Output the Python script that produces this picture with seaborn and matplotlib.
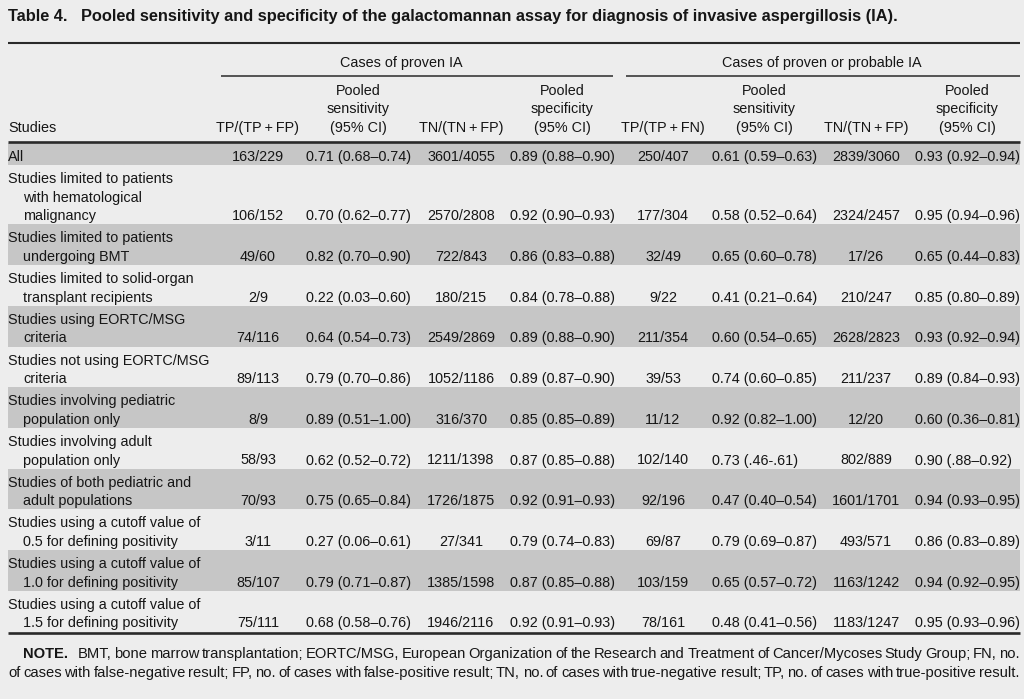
import matplotlib
matplotlib.use("Agg")
import pandas as pd
import matplotlib.pyplot as plt
import seaborn as sns

# Tabela 4 - sensibilidade / especificidade do ensaio de galactomanana

sns.set_theme(style="white")
plt.rcParams['font.family'] = ['Liberation Sans', 'DejaVu Sans']

titulo = "Table 4.   Pooled sensitivity and specificity of the galactomannan assay for diagnosis of invasive aspergillosis (IA)."

grupos = ["Cases of proven IA", "Cases of proven or probable IA"]
cabecalhos = ["TP/(TP\u2009+\u2009FP)", "Pooled\nsensitivity\n(95% CI)", "TN/(TN\u2009+\u2009FP)", "Pooled\nspecificity\n(95% CI)",
              "TP/(TP\u2009+\u2009FN)", "Pooled\nsensitivity\n(95% CI)", "TN/(TN\u2009+\u2009FP)", "Pooled\nspecificity\n(95% CI)"]

estudos = [
    "All",
    "Studies limited to patients\nwith hematological\nmalignancy",
    "Studies limited to patients\nundergoing BMT",
    "Studies limited to solid-organ\ntransplant recipients",
    "Studies using EORTC/MSG\ncriteria",
    "Studies not using EORTC/MSG\ncriteria",
    "Studies involving pediatric\npopulation only",
    "Studies involving adult\npopulation only",
    "Studies of both pediatric and\nadult populations",
    "Studies using a cutoff value of\n0.5 for defining positivity",
    "Studies using a cutoff value of\n1.0 for defining positivity",
    "Studies using a cutoff value of\n1.5 for defining positivity",
]

tp_fp = ["163/229", "106/152", "49/60", "2/9", "74/116", "89/113", "8/9", "58/93", "70/93", "3/11", "85/107", "75/111"]
sens_prov = ["0.71 (0.68–0.74)", "0.70 (0.62–0.77)", "0.82 (0.70–0.90)", "0.22 (0.03–0.60)", "0.64 (0.54–0.73)",
             "0.79 (0.70–0.86)", "0.89 (0.51–1.00)", "0.62 (0.52–0.72)", "0.75 (0.65–0.84)", "0.27 (0.06–0.61)",
             "0.79 (0.71–0.87)", "0.68 (0.58–0.76)"]
tn_fp = ["3601/4055", "2570/2808", "722/843", "180/215", "2549/2869", "1052/1186", "316/370", "1211/1398",
         "1726/1875", "27/341", "1385/1598", "1946/2116"]
espec_prov = ["0.89 (0.88–0.90)", "0.92 (0.90–0.93)", "0.86 (0.83–0.88)", "0.84 (0.78–0.88)", "0.89 (0.88–0.90)",
              "0.89 (0.87–0.90)", "0.85 (0.85–0.89)", "0.87 (0.85–0.88)", "0.92 (0.91–0.93)", "0.79 (0.74–0.83)",
              "0.87 (0.85–0.88)", "0.92 (0.91–0.93)"]
tp_fn = ["250/407", "177/304", "32/49", "9/22", "211/354", "39/53", "11/12", "102/140", "92/196", "69/87",
         "103/159", "78/161"]
sens_prob = ["0.61 (0.59–0.63)", "0.58 (0.52–0.64)", "0.65 (0.60–0.78)", "0.41 (0.21–0.64)", "0.60 (0.54–0.65)",
             "0.74 (0.60–0.85)", "0.92 (0.82–1.00)", "0.73 (.46-.61)", "0.47 (0.40–0.54)", "0.79 (0.69–0.87)",
             "0.65 (0.57–0.72)", "0.48 (0.41–0.56)"]
tn_fp2 = ["2839/3060", "2324/2457", "17/26", "210/247", "2628/2823", "211/237", "12/20", "802/889",
          "1601/1701", "493/571", "1163/1242", "1183/1247"]
espec_prob = ["0.93 (0.92–0.94)", "0.95 (0.94–0.96)", "0.65 (0.44–0.83)", "0.85 (0.80–0.89)", "0.93 (0.92–0.94)",
              "0.89 (0.84–0.93)", "0.60 (0.36–0.81)", "0.90 (.88–0.92)", "0.94 (0.93–0.95)", "0.86 (0.83–0.89)",
              "0.94 (0.92–0.95)", "0.95 (0.93–0.96)"]

nota_l1 = "BMT, bone marrow transplantation; EORTC/MSG, European Organization of the Research and Treatment of Cancer/Mycoses Study Group; FN, no."
nota_l2 = "of cases with false-negative result; FP, no. of cases with false-positive result; TN, no. of cases with true-negative result; TP, no. of cases with true-positive result."

df = pd.DataFrame({'Studies': estudos, 'tp_fp': tp_fp, 'sens_prov': sens_prov, 'tn_fp': tn_fp,
                   'espec_prov': espec_prov, 'tp_fn': tp_fn, 'sens_prob': sens_prob, 'tn_fp2': tn_fp2,
                   'espec_prob': espec_prob})

# cores / layout
FUNDO = "#ededed"
CINZA = "#c6c6c6"
TINTA = "#161616"
FS = 10.4
FS_NOTA = 10.6
ESQ, DIR = 8, 1020
centros = [258, 358, 461, 562, 663, 764, 866, 967]
eh_ic = [False, True, False, True, False, True, False, True]
ALT_LINHA = 18.6
PAD = 3.5

fig = plt.figure(figsize=(10.24, 6.99), dpi=100, facecolor=FUNDO)
ax = fig.add_axes([0, 0, 1, 1])
ax.set_facecolor(FUNDO)
ax.set_xlim(0, 1024)
ax.set_ylim(699, 0)
ax.axis('off')

ax.text(ESQ, 20.5, titulo, fontsize=11.8, fontweight='bold', color=TINTA, va='baseline',
        family=['Liberation Sans Narrow', 'Liberation Sans', 'DejaVu Sans'])

# regras do cabeçalho
ax.hlines(43, ESQ, DIR, color="#2a2a2a", lw=1.5)
ax.text(401, 67.5, grupos[0], fontsize=FS, color=TINTA, ha='center', va='baseline')
ax.text(822, 67.5, grupos[1], fontsize=FS, color=TINTA, ha='center', va='baseline')
ax.hlines(76, 221, 613, color="#2a2a2a", lw=1.1)
ax.hlines(76, 626, DIR, color="#2a2a2a", lw=1.1)

base_cab = 132
ax.text(ESQ, base_cab, "Studies", fontsize=FS, color=TINTA, va='baseline')
for cx, cab in zip(centros, cabecalhos):
    linhas = cab.split("\n")
    for k, txt in enumerate(linhas):
        y = base_cab - (len(linhas) - 1 - k) * ALT_LINHA
        ax.text(cx, y, txt, fontsize=FS, color=TINTA, ha='center', va='baseline')

ax.hlines(142, ESQ, DIR, color="#2a2a2a", lw=1.9)

# corpo da tabela
colunas = ['tp_fp', 'sens_prov', 'tn_fp', 'espec_prov', 'tp_fn', 'sens_prob', 'tn_fp2', 'espec_prob']
topo = 143
for i, lin in df.iterrows():
    partes = lin['Studies'].split("\n")
    n = len(partes)
    altura = n * ALT_LINHA + PAD
    if i % 2 == 0:
        ax.axhspan(topo, topo + altura, xmin=ESQ / 1024, xmax=DIR / 1024, color=CINZA, lw=0, zorder=0)
    for k, txt in enumerate(partes):
        x = ESQ if k == 0 else ESQ + 15
        ax.text(x, topo + 18 + k * ALT_LINHA, txt, fontsize=FS, color=TINTA, va='baseline')
    y_ult = topo + 18 + (n - 1) * ALT_LINHA
    for cx, col, ic in zip(centros, colunas, eh_ic):
        if ic:
            ax.text(cx - 52, y_ult, lin[col], fontsize=FS, color=TINTA, ha='left', va='baseline')
        else:
            ax.text(cx, y_ult, lin[col], fontsize=FS, color=TINTA, ha='center', va='baseline')
    topo += altura

ax.hlines(topo + 2, ESQ, DIR, color="#2a2a2a", lw=1.9)

# nota de rodapé justificada
fig.canvas.draw()
rend = fig.canvas.get_renderer()


def justificar(palavras, x0, x1, y, extra=0):
    objs = []
    for p, peso in palavras:
        objs.append(ax.text(0, y, p, fontsize=FS_NOTA, color=TINTA, fontweight=peso, va='baseline'))
    larg = [o.get_window_extent(rend).width for o in objs]
    folga = (x1 - x0 - sum(larg) - extra) / (len(objs) - 1)
    x = x0
    for j, (o, w) in enumerate(zip(objs, larg)):
        o.set_x(x)
        x += w + folga + (extra if j == 0 else 0)


pal1 = [("NOTE.", 'bold')] + [(w, 'normal') for w in nota_l1.split()]
justificar(pal1, 23, DIR, 658, extra=7)
pal2 = [(w, 'normal') for w in nota_l2.split()]
justificar(pal2, ESQ, DIR, 677)

plt.savefig("out.png", dpi=100, facecolor=FUNDO)
